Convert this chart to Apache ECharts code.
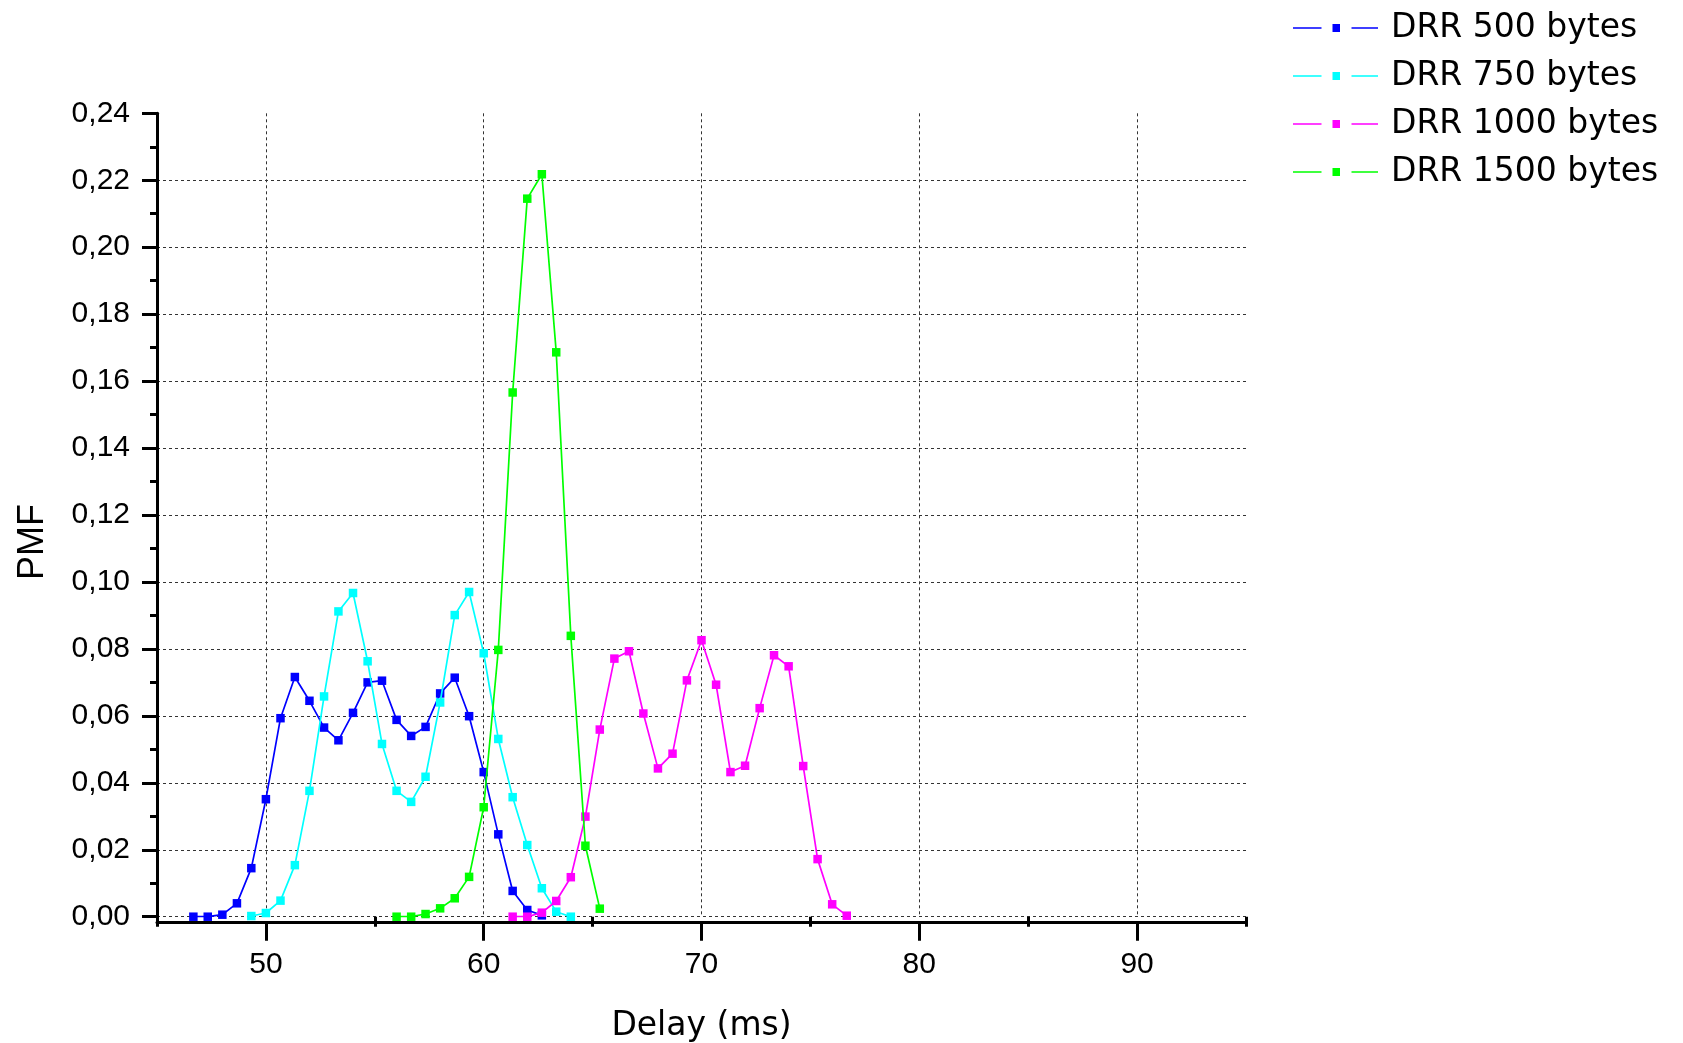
<!DOCTYPE html>
<html>
<head>
<meta charset="utf-8">
<script src="https://cdn.jsdelivr.net/npm/echarts@6/dist/echarts.min.js"></script>
<style>
html,body{margin:0;padding:0;background:#fff;}
#chart{width:1683px;height:1043px;}
</style>
</head>
<body>
<div id="chart"></div>
<script>
// ---- data ----
const seriesNames = ['DRR 500 bytes', 'DRR 750 bytes', 'DRR 1000 bytes', 'DRR 1500 bytes'];
const seriesColors = ['#0000FF', '#00FFFF', '#FF00FF', '#00FF00'];

const delay500 = [46.67, 47.33, 48.00, 48.67, 49.33, 50.00, 50.67, 51.33, 52.00, 52.67, 53.33, 54.00, 54.67, 55.33, 56.00, 56.67, 57.33, 58.00, 58.67, 59.33, 60.00, 60.67, 61.33, 62.00, 62.67];
const pmf500   = [0.0000, 0.0000, 0.0006, 0.0040, 0.0145, 0.0351, 0.0593, 0.0716, 0.0645, 0.0565, 0.0527, 0.0609, 0.0700, 0.0705, 0.0588, 0.0540, 0.0567, 0.0667, 0.0714, 0.0599, 0.0432, 0.0246, 0.0077, 0.0020, 0.0004];

const delay750 = [49.33, 50.00, 50.67, 51.33, 52.00, 52.67, 53.33, 54.00, 54.67, 55.33, 56.00, 56.67, 57.33, 58.00, 58.67, 59.33, 60.00, 60.67, 61.33, 62.00, 62.67, 63.33, 64.00];
const pmf750   = [0.0002, 0.0011, 0.0048, 0.0154, 0.0376, 0.0658, 0.0912, 0.0967, 0.0763, 0.0516, 0.0376, 0.0343, 0.0418, 0.0640, 0.0901, 0.0970, 0.0787, 0.0531, 0.0357, 0.0214, 0.0085, 0.0015, 0.0000];

const delay1000 = [61.33, 62.00, 62.67, 63.33, 64.00, 64.67, 65.33, 66.00, 66.67, 67.33, 68.00, 68.67, 69.33, 70.00, 70.67, 71.33, 72.00, 72.67, 73.33, 74.00, 74.67, 75.33, 76.00, 76.67];
const pmf1000   = [0.0000, 0.0000, 0.0012, 0.0047, 0.0118, 0.0299, 0.0559, 0.0771, 0.0793, 0.0607, 0.0443, 0.0487, 0.0706, 0.0826, 0.0693, 0.0432, 0.0451, 0.0623, 0.0781, 0.0748, 0.0450, 0.0172, 0.0037, 0.0003];

const delay1500 = [56.00, 56.67, 57.33, 58.00, 58.67, 59.33, 60.00, 60.67, 61.33, 62.00, 62.67, 63.33, 64.00, 64.67, 65.33];
const pmf1500   = [0.0000, 0.0000, 0.0008, 0.0025, 0.0055, 0.0119, 0.0327, 0.0797, 0.1566, 0.2145, 0.2218, 0.1686, 0.0839, 0.0212, 0.0024];

const xMajorTicks = [50, 60, 70, 80, 90];
const xMinorTicks = [45, 55, 65, 75, 85, 95];
const xName = 'Delay (ms)';
const yName = 'PMF';

// ---- chart ----
const delays = [delay500, delay750, delay1000, delay1500];
const pmfs = [pmf500, pmf750, pmf1000, pmf1500];

const legendIcon = 'path://M0,3.2 h28.5 v1.6 h-28.5 Z M39.5,0 h7.5 v8 h-7.5 Z M58.5,3.2 h26.5 v1.6 h-26.5 Z';
const labelFont = 'Liberation Sans, Arial, sans-serif';
const wideFont = 'DejaVu Sans, sans-serif';

const series = seriesNames.map((name, i) => ({
  name: name,
  type: 'line',
  xAxisIndex: 0,
  yAxisIndex: 0,
  data: delays[i].map((d, j) => [d, pmfs[i][j]]),
  symbol: 'rect',
  symbolSize: 8.5,
  showAllSymbol: true,
  color: seriesColors[i],
  lineStyle: { width: 1.7, color: seriesColors[i] },
  itemStyle: { color: seriesColors[i] },
  emphasis: { disabled: true },
  animation: false,
  z: 3 + i
}));

const chart = echarts.init(document.getElementById('chart'), null, { renderer: 'canvas' });
chart.setOption({
  backgroundColor: '#ffffff',
  animation: false,
  grid: { left: 157, right: 437, top: 113.3, bottom: 126.3, containLabel: false, outerBoundsMode: 'none' },
  legend: {
    orient: 'vertical',
    left: 1288,
    top: 6.5,
    itemWidth: 85,
    itemHeight: 8,
    itemGap: 15,
    icon: legendIcon,
    data: seriesNames,
    textStyle: { fontFamily: wideFont, fontSize: 33, color: '#000', lineHeight: 32, padding: [0, 0, 0, 8] }
  },
  xAxis: [{
    type: 'value',
    min: 45, max: 95,
    position: 'bottom',
    offset: 6,
    name: xName,
    nameLocation: 'middle',
    nameGap: 87,
    nameTextStyle: { fontFamily: wideFont, fontSize: 33, color: '#000' },
    axisLine: { show: true, onZero: false, lineStyle: { color: '#000', width: 3 } },
    axisTick: { show: true, inside: false, length: 18, customValues: xMajorTicks, lineStyle: { color: '#000', width: 3 } },
    axisLabel: { show: true, customValues: xMajorTicks, margin: 27, fontFamily: labelFont, fontSize: 30, color: '#000' },
    splitLine: { show: true, lineStyle: { color: '#333', type: [3, 3], width: 1 } }
  }, {
    type: 'value',
    min: 45, max: 95,
    position: 'bottom',
    offset: 6,
    axisLine: { show: false },
    axisTick: { show: true, inside: false, length: 10, customValues: xMinorTicks, lineStyle: { color: '#000', width: 3 } },
    axisLabel: { show: false },
    splitLine: { show: false }
  }],
  yAxis: [{
    type: 'value',
    min: 0, max: 0.24, interval: 0.02,
    position: 'left',
    name: yName,
    nameLocation: 'middle',
    nameGap: 106,
    nameTextStyle: { fontFamily: labelFont, fontSize: 36, color: '#000', padding: [0, 54, 0, 0] },
    axisLine: { show: true, onZero: false, lineStyle: { color: '#000', width: 3 } },
    axisTick: { show: true, inside: false, length: 15, lineStyle: { color: '#000', width: 3 } },
    minorTick: { show: true, splitNumber: 2, length: 7, lineStyle: { color: '#000', width: 3 } },
    axisLabel: {
      margin: 27, fontFamily: labelFont, fontSize: 30, color: '#000',
      formatter: v => v.toFixed(2).replace('.', ',')
    },
    splitLine: { show: true, showMaxLine: false, lineStyle: { color: '#333', type: [3, 3], width: 1 } }
  }],
  series: series
});
</script>
</body>
</html>
